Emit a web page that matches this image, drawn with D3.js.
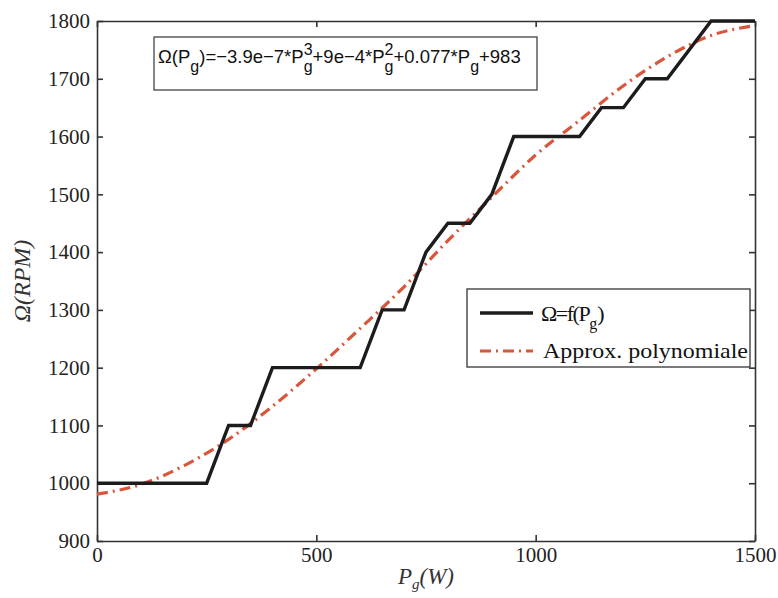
<!DOCTYPE html>
<html>
<head>
<meta charset="utf-8">
<script src="https://cdn.jsdelivr.net/npm/d3@7"></script>
<style>
  body { margin: 0; background: #fff; }
  svg { display: block; }
</style>
</head>
<body>
<svg id="chart"></svg>
<script>
// step curve: measured speed vs power
const stepP     = [0, 250, 300, 350, 400, 600, 650, 700, 750, 800, 850, 900, 950, 1100, 1150, 1200, 1250, 1300, 1400, 1500];
const stepOmega = [1000, 1000, 1100, 1100, 1200, 1200, 1300, 1300, 1400, 1450, 1450, 1500, 1600, 1600, 1650, 1650, 1700, 1700, 1800, 1800];

// polynomial approximation
const fitP     = [0, 100, 200, 300, 400, 500, 600, 700, 800, 900, 1000, 1100, 1200, 1300, 1400, 1500];
const fitOmega = [981, 998, 1031, 1076, 1133, 1198, 1268, 1340, 1420, 1495, 1568, 1628, 1688, 1738, 1775, 1792];

const xTicks = [0, 500, 1000, 1500];
const yTicks = [900, 1000, 1100, 1200, 1300, 1400, 1500, 1600, 1700, 1800];

const legendLabels = ['Ω=f(P', 'Approx. polynomiale'];

const W = 778, H = 598;
const margin = {top: 21, right: 23, bottom: 57, left: 97};
const iw = W - margin.left - margin.right;
const ih = H - margin.top - margin.bottom;

const serif = '"Liberation Serif", "Times New Roman", serif';
const sans = '"Liberation Sans", Arial, sans-serif';

const svg = d3.select('#chart').attr('width', W).attr('height', H);
const g = svg.append('g').attr('transform', `translate(${margin.left},${margin.top})`);

const x = d3.scaleLinear().domain([0, 1500]).range([0, iw]);
const y = d3.scaleLinear().domain([900, 1800]).range([ih, 0]);

// axes (ticks point inward, box on)
const axisColor = '#333';
const styleAxis = sel => {
    sel.select('.domain').attr('stroke', axisColor).attr('stroke-width', 1.6);
    sel.selectAll('.tick line').attr('stroke', axisColor).attr('stroke-width', 1.6);
    sel.selectAll('.tick text')
        .attr('font-family', serif)
        .attr('font-size', 21)
        .attr('fill', '#222');
};

g.append('g')
    .attr('transform', `translate(0,${ih})`)
    .call(d3.axisBottom(x).tickValues(xTicks).tickSize(-6).tickSizeOuter(0).tickPadding(6).tickFormat(d3.format('d')))
    .call(styleAxis);

g.append('g')
    .call(d3.axisLeft(y).tickValues(yTicks).tickSize(-6).tickSizeOuter(0).tickPadding(7).tickFormat(d3.format('d')))
    .call(styleAxis);

g.append('g')
    .call(d3.axisTop(x).tickValues(xTicks).tickSize(-6).tickSizeOuter(0).tickFormat(''))
    .call(styleAxis);

g.append('g')
    .attr('transform', `translate(${iw},0)`)
    .call(d3.axisRight(y).tickValues(yTicks).tickSize(-6).tickSizeOuter(0).tickFormat(''))
    .call(styleAxis);

// data lines
const stepData = stepP.map((p, i) => ({p: p, w: stepOmega[i]}));
const fitData = fitP.map((p, i) => ({p: p, w: fitOmega[i]}));

const lineGen = d3.line().x(d => x(d.p)).y(d => y(d.w));
const curveGen = d3.line().x(d => x(d.p)).y(d => y(d.w)).curve(d3.curveMonotoneX);

const blackColor = '#1c1c1c';
const redColor = '#d8563b';
const dashDot = '11,5,2,5';

g.append('path')
    .datum(fitData)
    .attr('d', curveGen)
    .attr('fill', 'none')
    .attr('stroke', redColor)
    .attr('stroke-width', 3.2)
    .attr('stroke-dasharray', dashDot);

g.append('path')
    .datum(stepData)
    .attr('d', lineGen)
    .attr('fill', 'none')
    .attr('stroke', blackColor)
    .attr('stroke-width', 3.4);

// axis labels
const xl = svg.append('text')
    .attr('x', margin.left + iw / 2)
    .attr('y', 584)
    .attr('text-anchor', 'middle')
    .attr('font-family', serif)
    .attr('font-size', 23)
    .attr('font-style', 'italic')
    .attr('fill', '#333');
xl.append('tspan').text('P');
xl.append('tspan').attr('font-size', 15).attr('dy', 5).text('g');
xl.append('tspan').attr('dy', -5).text('(W)');

svg.append('text')
    .attr('transform', `translate(30,${margin.top + ih / 2}) rotate(-90)`)
    .attr('text-anchor', 'middle')
    .attr('font-family', serif)
    .attr('font-size', 24)
    .attr('font-style', 'italic')
    .attr('fill', '#333')
    .text('Ω(RPM)');

// equation box
svg.append('rect')
    .attr('x', 154).attr('y', 37).attr('width', 383).attr('height', 53)
    .attr('fill', '#fff').attr('stroke', '#444').attr('stroke-width', 1.3);

// pieces: text, vertical shift, size, stacked under previous piece
const eqPieces = [
    ['Ω(P', 0, 18.5], ['g', 9, 16], [')=−3.9e−7*P', 0, 18.5], ['3', -8, 16], ['g', 9, 16, true],
    ['+9e−4*P', 0, 18.5], ['2', -8, 16], ['g', 9, 16, true], ['+0.077*P', 0, 18.5], ['g', 9, 16], ['+983', 0, 18.5]
];
const eqG = svg.append('g').attr('font-family', sans).attr('fill', '#111');
let cx = 158, prevStart = 158, prevEnd = 158;
eqPieces.forEach(([str, dy, size, stacked]) => {
    const start = stacked ? prevStart : cx;
    const t = eqG.append('text').attr('x', start).attr('y', 63 + dy).attr('font-size', size).text(str);
    const end = start + t.node().getComputedTextLength();
    cx = stacked ? Math.max(prevEnd, end) : end;
    prevStart = start;
    prevEnd = end;
});

// legend
const lg = svg.append('g').attr('transform', 'translate(467,289)');
lg.append('rect').attr('width', 283).attr('height', 78)
    .attr('fill', '#fff').attr('stroke', '#333').attr('stroke-width', 1.3);

lg.append('line').attr('x1', 13).attr('x2', 66).attr('y1', 24).attr('y2', 24)
    .attr('stroke', blackColor).attr('stroke-width', 3.4);
lg.append('line').attr('x1', 13).attr('x2', 66).attr('y1', 62).attr('y2', 62)
    .attr('stroke', redColor).attr('stroke-width', 3.2).attr('stroke-dasharray', dashDot);

const l1 = lg.append('text').attr('x', 74).attr('y', 32)
    .attr('font-family', serif).attr('font-size', 22).attr('fill', '#111');
l1.append('tspan').attr('letter-spacing', -1.5).text(legendLabels[0]);
l1.append('tspan').attr('font-size', 16).attr('dy', 8).text('g');
l1.append('tspan').attr('dy', -8).text(')');

lg.append('text').attr('x', 76).attr('y', 69)
    .attr('font-family', serif).attr('font-size', 22).attr('fill', '#111')
    .attr('textLength', 205).attr('lengthAdjust', 'spacingAndGlyphs')
    .text(legendLabels[1]);
</script>
</body>
</html>
